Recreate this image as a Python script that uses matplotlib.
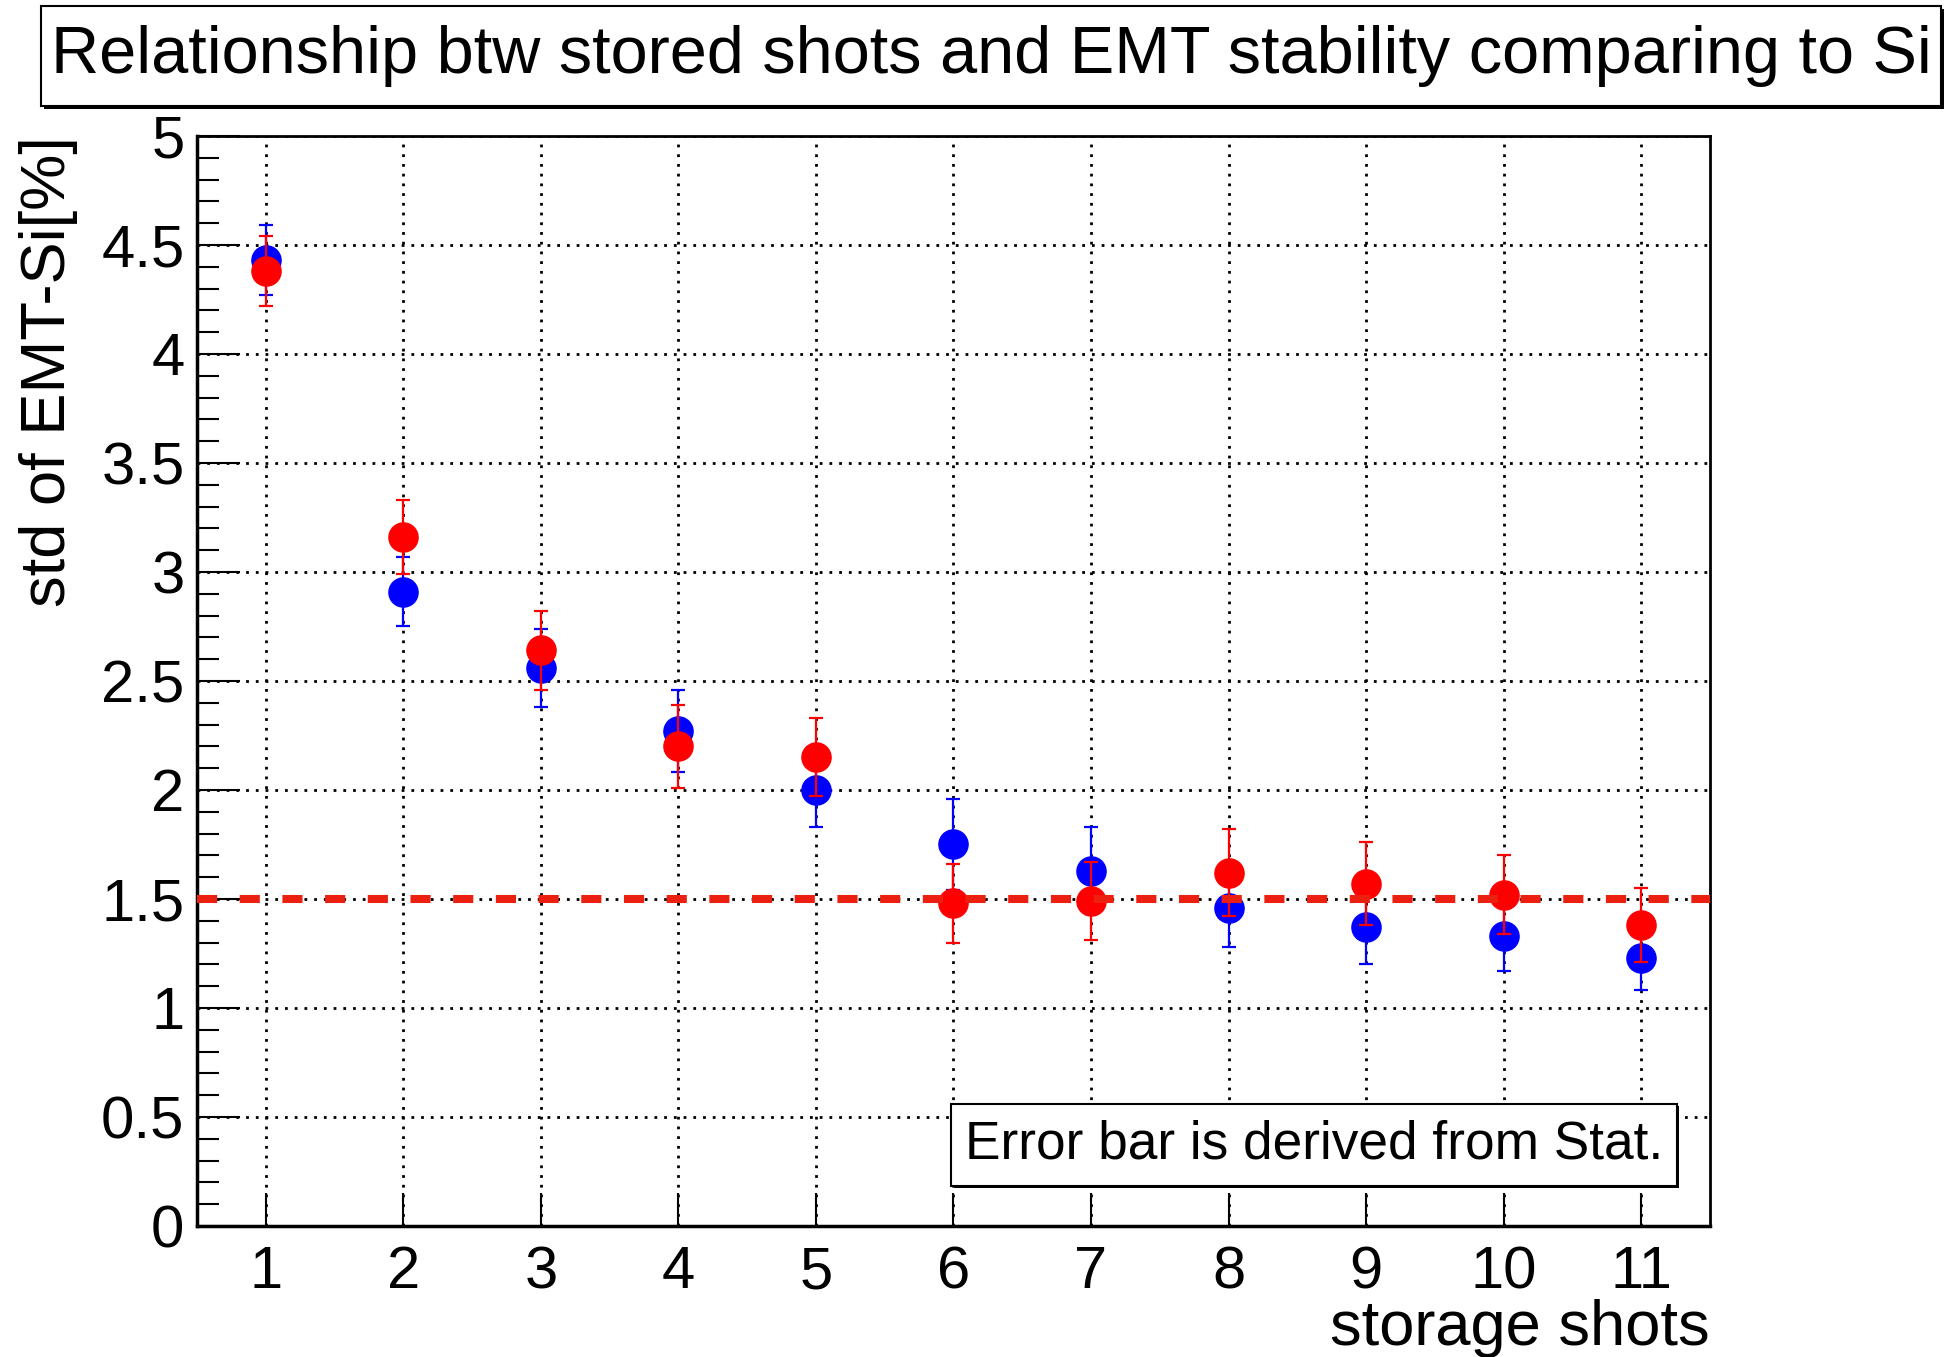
import matplotlib
matplotlib.use('Agg')
import matplotlib.pyplot as plt
from matplotlib.patches import Rectangle
from matplotlib.ticker import MultipleLocator

# storage shots vs std of EMT-Si, two series (blue / red) with stat. errors
shots = [1, 2, 3, 4, 5, 6, 7, 8, 9, 10, 11]
blue_std = [4.43, 2.91, 2.56, 2.27, 2.00, 1.75, 1.63, 1.46, 1.37, 1.33, 1.23]
blue_err = [0.16, 0.16, 0.18, 0.19, 0.17, 0.21, 0.20, 0.18, 0.17, 0.16, 0.15]
red_std = [4.38, 3.16, 2.64, 2.20, 2.15, 1.48, 1.49, 1.62, 1.57, 1.52, 1.38]
red_err = [0.16, 0.17, 0.18, 0.19, 0.18, 0.18, 0.18, 0.20, 0.19, 0.18, 0.17]
ref_level = 1.5

title = "Relationship btw stored shots and EMT stability comparing to Si"
note = "Error bar is derived from Stat."

plt.rcParams['font.family'] = ['Liberation Sans', 'DejaVu Sans']

fig = plt.figure(figsize=(19.54, 13.57), dpi=100)
ax = fig.add_axes([0.1008, 0.0966, 0.7743, 0.8032])

ax.set_xlim(0.5, 11.5)
ax.set_ylim(0, 5)

ax.set_axisbelow(True)
ax.grid(True, which='major', color='black', linestyle=(0, (1, 2.5)), linewidth=2)

ax.errorbar(shots, blue_std, yerr=blue_err, fmt='o', color='#0000ff',
            markersize=21, elinewidth=1.6, capsize=5, capthick=1.6, zorder=3)
ax.errorbar(shots, red_std, yerr=red_err, fmt='o', color='#ff0000',
            markersize=21, elinewidth=1.6, capsize=5, capthick=1.6, zorder=4)

ax.axhline(ref_level, color='#ec2010', linewidth=5.8, linestyle=(0, (2.5, 2.8)), zorder=5)

ax.xaxis.set_major_locator(MultipleLocator(1))
ax.yaxis.set_minor_locator(MultipleLocator(0.1))
ax.set_yticks([0, 0.5, 1, 1.5, 2, 2.5, 3, 3.5, 4, 4.5, 5])
ax.set_yticklabels(['0', '0.5', '1', '1.5', '2', '2.5', '3', '3.5', '4', '4.5', '5'])

ax.tick_params(axis='y', which='major', direction='in', length=31, width=1.5,
               labelsize=43, pad=9)
ax.tick_params(axis='y', which='minor', direction='in', length=16, width=1.5)
ax.tick_params(axis='x', which='major', direction='in', length=24, width=1.5,
               labelsize=43, pad=14)
ax.tick_params(axis='x', which='minor', bottom=False)

for side in ['left', 'bottom']:
    ax.spines[side].set_linewidth(2.5)
for side in ['top', 'right']:
    ax.spines[side].set_linewidth(2)

fig.text(0.025, 0.8998, "std of EMT-Si[%]", rotation=90, ha='center', va='top',
         fontsize=45.5)
fig.text(0.8751, 0.009, "storage shots", ha='right', va='baseline', fontsize=45.5)

# title box with small shadow
fig.patches.append(Rectangle((0.0225, 0.9200), 0.9725, 0.0735, transform=fig.transFigure,
                             facecolor='black', edgecolor='none', zorder=1))
fig.patches.append(Rectangle((0.021, 0.9220), 0.9725, 0.0735, transform=fig.transFigure,
                             facecolor='white', edgecolor='black', linewidth=1.5, zorder=2))
fig.text(0.5075, 0.9587, title, ha='center', va='center', fontsize=48, zorder=3)

# note box inside axes
fig.patches.append(Rectangle((0.4880, 0.1246), 0.3715, 0.0604, transform=fig.transFigure,
                             facecolor='black', edgecolor='none', zorder=6))
fig.patches.append(Rectangle((0.4867, 0.1261), 0.3715, 0.0604, transform=fig.transFigure,
                             facecolor='white', edgecolor='black', linewidth=1.5, zorder=7))
fig.text(0.6725, 0.1563, note, ha='center', va='center', fontsize=38.3, zorder=8)

plt.savefig('out.png', dpi=100)
plt.close()
